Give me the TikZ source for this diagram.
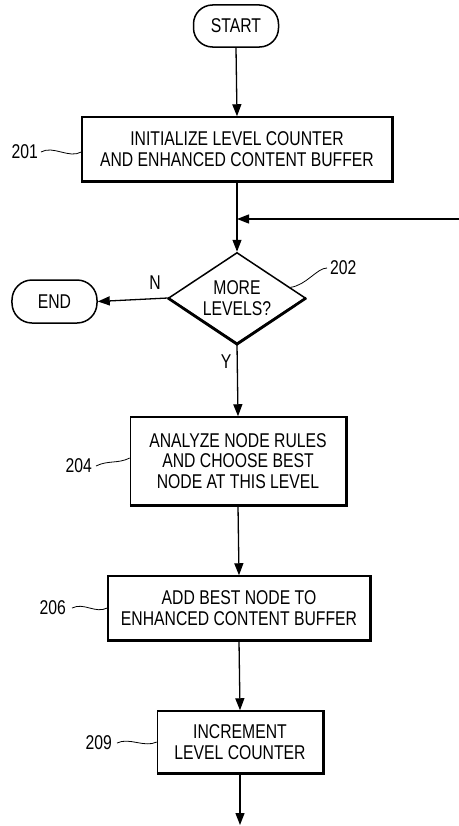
\documentclass[tikz,border=0pt]{standalone}
\usepackage{fontspec}
\setmainfont[FakeStretch=0.79]{Liberation Sans}
\usetikzlibrary{shapes.geometric,arrows.meta,calc}
\begin{document}
\begin{tikzpicture}[x=1bp,y=-1bp,
  every node/.style={font=\fontsize{20}{20.5}\selectfont, align=center},
  box/.style={draw, line width=1.5bp, inner sep=0pt},
  term/.style={draw, line width=1.5bp, rounded corners=19bp, inner sep=0pt},
  dec/.style={draw, diamond, aspect=1.5, line width=1.5bp, inner sep=0pt},
  flow/.style={line width=1.3bp, -{Triangle[length=12bp,width=9bp]}},
  plain/.style={line width=1.3bp},
  heavy/.style={line width=3bp},
  lead/.style={line width=0.8bp},
  refl/.style={inner sep=0pt}
]
\useasboundingbox (0,0) rectangle (459,826);

% nodes
\node[term, minimum width=85bp, minimum height=42bp] (start) at (236,26) {START};
\node[box, minimum width=310bp, minimum height=64bp] (b201) at (237,149) {INITIALIZE LEVEL COUNTER\\AND ENHANCED CONTENT BUFFER};
\node[dec, minimum width=137bp, minimum height=91bp] (d202) at (237,298) {MORE\\LEVELS?};
\node[term, minimum width=85bp, minimum height=43bp, rounded corners=20bp] (end) at (54.5,301.5) {END};
\node[box, minimum width=215bp, minimum height=88bp] (b204) at (238,461) {ANALYZE NODE RULES\\AND CHOOSE BEST\\NODE AT THIS LEVEL};
\node[box, minimum width=262bp, minimum height=64bp] (b206) at (239,608) {ADD BEST NODE TO\\ENHANCED CONTENT BUFFER};
\node[box, minimum width=165bp, minimum height=62bp] (b209) at (240,742) {INCREMENT\\LEVEL COUNTER};

% heavier lower / right edges
\draw[heavy] (b201.south west) -- (b201.south east) -- (b201.north east);
\draw[heavy] (b204.south west) -- (b204.south east) -- (b204.north east);
\draw[heavy] (b206.south west) -- (b206.south east) -- (b206.north east);
\draw[heavy] (b209.south west) -- (b209.south east) -- (b209.north east);
\draw[line width=2.6bp] (d202.west) -- (d202.south) -- (d202.east);

% reference labels
\node[refl, anchor=east] (l201) at (38,152) {201};
\node[refl, anchor=west] (l202) at (330,268) {202};
\node[refl, anchor=east] (l204) at (92,466) {204};
\node[refl, anchor=east] (l206) at (66,608) {206};
\node[refl, anchor=east] (l209) at (112,743) {209};
\node[refl] (lN) at (155,283) {N};
\node[refl] (lY) at (226,362) {Y};

% free ends
\coordinate (loopin) at (459,219);
\coordinate (join) at (237,219);
\coordinate (out) at (240,825);

% connectors
\draw[flow] (start.south) -- (b201.north);
\draw[plain] (b201.south) -- (join);
\draw[flow] (join) -- (d202.north);
\draw[flow] (loopin) -- (join);
\draw[flow] (d202.west) -- (end.east);
\draw[flow] (d202.south) -- (b204.north);
\draw[flow] (b204.south) -- (b206.north);
\draw[flow] (b206.south) -- (b209.north);
\draw[flow] (b209.south) -- (out);

% leader squiggles
\draw[lead] ([xshift=3bp]l201.east) .. controls +(12,-7) and +(-12,7) .. (b201.west |- l201.east);
\draw[lead] ($(d202.north)!0.77!(d202.east)$) .. controls +(16,-2) and +(-10,0) .. ([xshift=-3bp]l202.west);
\draw[lead] ([xshift=4bp]l204.east) .. controls +(12,-6) and +(-12,6) .. ([yshift=3bp]b204.west);
\draw[lead] ([xshift=6bp]l206.east) .. controls +(12,-6) and +(-12,6) .. (b206.west);
\draw[lead] ([xshift=5bp]l209.east) .. controls +(12,-6) and +(-12,6) .. (b209.west);
\end{tikzpicture}
\end{document}
